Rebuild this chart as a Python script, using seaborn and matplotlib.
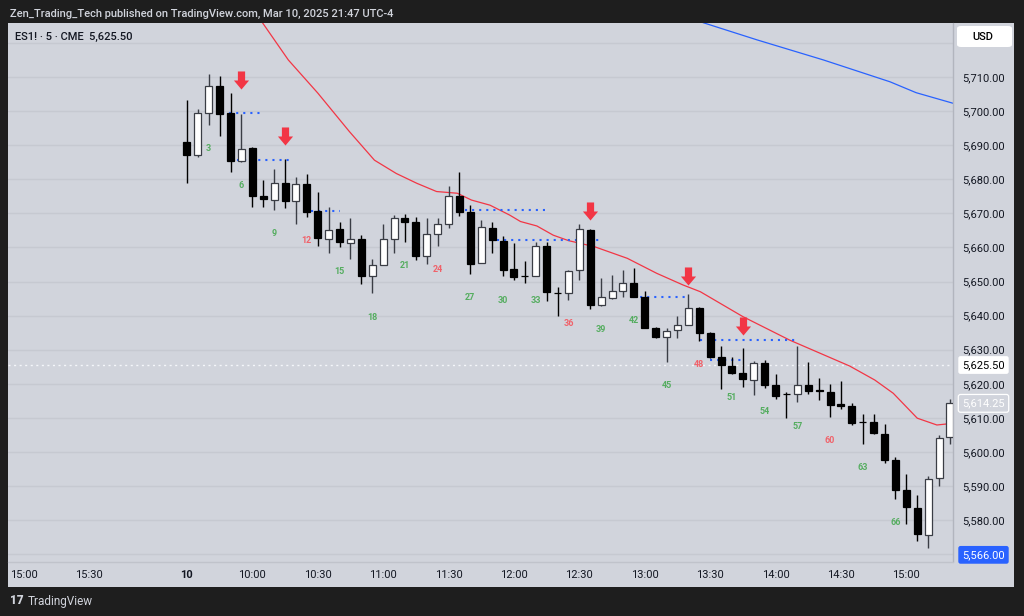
import numpy as np
import seaborn as sns
import matplotlib.pyplot as plt
from matplotlib.path import Path
from matplotlib.transforms import blended_transform_factory
from matplotlib.patches import FancyBboxPatch

# ES1! 5 min bars, 9:30 onward (bar 1 = 9:30)
opens = [5691, 5687, 5699.5, 5707.25, 5699.5, 5685.5, 5689.25, 5675, 5674, 5679,
         5673.5, 5678.75, 5670.75, 5662.5, 5665.5, 5661.25, 5662.5, 5651.5, 5654.75, 5662.5,
         5668.5, 5667.5, 5657.5, 5664, 5667, 5675, 5670.5, 5655.5, 5665.75, 5662,
         5653.75, 5651.5, 5651.5, 5660.5, 5646.75, 5646.75, 5653.25, 5665.25, 5643, 5645.25,
         5647.25, 5649.5, 5645.5, 5636.5, 5633.75, 5635.75, 5637.25, 5642.25, 5634.75, 5627.75,
         5625.25, 5623.25, 5621, 5626, 5619.75, 5617, 5617, 5619.5, 5618.25, 5617.5,
         5614, 5613.5, 5608.75, 5608.75, 5605.25, 5597.75, 5588.75, 5583.5, 5575.75, 5592.25,
         5604.25]
highs = [5703.25, 5700.5, 5711, 5710.25, 5705.25, 5699.25, 5689.5, 5679.75, 5683, 5686,
         5680.75, 5681.5, 5676.25, 5672, 5667.5, 5668.75, 5663.75, 5656.5, 5667, 5669.5,
         5669.75, 5669, 5668.5, 5668.75, 5678, 5682, 5672.5, 5668, 5667.5, 5663.25,
         5661.25, 5656, 5661.5, 5661.5, 5648.25, 5653.5, 5667, 5665.5, 5651, 5652,
         5653.5, 5654, 5647.25, 5636.75, 5636.5, 5640, 5646.25, 5642.5, 5635.25, 5631,
         5627.75, 5630.5, 5626.75, 5627, 5622.75, 5617.5, 5631, 5626.25, 5621.75, 5620,
         5620.75, 5614.25, 5611, 5611.25, 5608.25, 5598.5, 5593.5, 5587.25, 5593, 5605,
         5615.5]
lows = [5679, 5686.5, 5696, 5692.75, 5682, 5685, 5672, 5672, 5671, 5671.5,
        5667, 5669, 5660.5, 5658.5, 5660, 5656.5, 5649.25, 5646.5, 5654.75, 5658.5,
        5661.5, 5656.25, 5655, 5660.5, 5665.75, 5669.25, 5652.25, 5655.5, 5658.25, 5651.5,
        5650.5, 5649.5, 5651.5, 5644.25, 5640, 5644.5, 5650.5, 5642, 5642.75, 5644.75,
        5645.5, 5645.5, 5636.5, 5633.5, 5626.5, 5633.5, 5637.25, 5632.5, 5627.5, 5618.5,
        5623, 5619, 5616.75, 5618.75, 5615.5, 5610, 5614.5, 5617, 5615.25, 5610.25,
        5612.5, 5608, 5602.25, 5605.25, 5596.75, 5586.25, 5578.75, 5573.75, 5571.75, 5590,
        5602.25]
closes = [5687, 5699.5, 5707.25, 5699.25, 5685.25, 5689, 5675, 5674.25, 5679, 5673.5,
          5678.75, 5670.5, 5662.75, 5665.25, 5661.5, 5662.5, 5651.5, 5654.75, 5662.5, 5668.75,
          5667.5, 5657.5, 5664, 5667, 5675, 5670.5, 5655.25, 5666, 5662.25, 5653.5,
          5651.25, 5651.5, 5660.5, 5647, 5646.75, 5653, 5665.5, 5643, 5645.5, 5647.25,
          5649.5, 5645.5, 5636.5, 5633.75, 5635.5, 5637.25, 5642.25, 5634.75, 5627.75, 5625.5,
          5623.25, 5621.25, 5626, 5619.75, 5616.5, 5617, 5619.5, 5618, 5617.75, 5613.75,
          5613.5, 5608.5, 5608.75, 5605.5, 5597.5, 5588.75, 5583.75, 5576, 5592, 5604,
          5614.25]

# moving averages (bar position, price)
ema_bars = [6.5, 9.3, 12.0, 14.9, 17.2, 19.2, 21.1, 22.9, 24.8, 26.1, 27.8, 29.6, 30.6,
            32.1, 33.6, 35.0, 37.4, 40.4, 43.1, 45.5, 47.1, 51.0, 55.3, 60.8, 63.1, 64.8,
            67.0, 68.8, 70.3]
ema_vals = [5727.9, 5715.0, 5705.3, 5694.0, 5685.6, 5681.7, 5678.8, 5676.4, 5675.9, 5673.9,
            5672.4, 5669.5, 5667.6, 5666.3, 5663.6, 5662.0, 5660.2, 5656.8, 5652.4, 5649.0,
            5647.0, 5639.7, 5632.8, 5625.2, 5621.1, 5617.2, 5609.9, 5607.9, 5608.4]
slow_bars = [46.5, 47.4, 52.3, 58.4, 64.5, 66.9, 70.5]
slow_vals = [5727.0, 5725.9, 5720.9, 5715.0, 5708.6, 5705.4, 5702.1]

# signal levels (start bar, end bar, price)
lvl_start = [3.2, 4.6, 11.4, 25.5, 28.4, 40.9, 47.1, 48.0]
lvl_end = [6.9, 9.7, 14.0, 33.1, 37.9, 45.9, 56.0, 51.0]
lvl_price = [5699.5, 5685.75, 5670.8, 5671.0, 5662.1, 5645.5, 5632.75, 5626.9]

arrow_bars = [5, 9, 37, 46, 51]
arrow_price = [5709.25, 5692.7, 5670.8, 5651.55, 5636.8]

count_labels = [3, 6, 9, 12, 15, 18, 21, 24, 27, 30, 33, 36, 39, 42, 45, 48, 51, 54, 57, 60, 63, 66]

tick_pos = [-15, -9, 0, 6, 12, 18, 24, 30, 36, 42, 48, 54, 60, 66]
tick_lab = ['15:00', '15:30', '10', '10:00', '10:30', '11:00', '11:30', '12:00',
            '12:30', '13:00', '13:30', '14:00', '14:30', '15:00']

prev_close = 5625.50
last_price = 5614.25
low_mark = 5566.00

BG = '#d1d4dc'
DARK = '#1e1e1e'
TXT = '#131722'

sns.set_theme(style='white')
plt.rcParams['font.family'] = ['Roboto', 'DejaVu Sans']

W, H = 1024, 616
fig = plt.figure(figsize=(10.24, 6.16), dpi=100, facecolor=DARK)

frame = fig.add_axes([8 / W, 1 - 587 / H, (1014 - 8) / W, (587 - 23) / H])
frame.set_facecolor(BG)
frame.set_xticks([]); frame.set_yticks([])
for s in frame.spines.values():
    s.set_visible(False)

ax = fig.add_axes([8 / W, 1 - 562 / H, (953 - 8) / W, (562 - 23) / H])
ax.set_facecolor(BG)
ax.set_xlim(-16.42, 70.28)
ax.set_ylim(5567.7, 5725.85)

# grid
for p in range(5570, 5721, 10):
    ax.axhline(p, color='#c6c9d1', lw=1, zorder=0)

ax.axhline(prev_close, color='#f4f6fa', lw=1, ls=(0, (1.5, 2.5)), zorder=1)

sns.lineplot(x=ema_bars, y=ema_vals, ax=ax, color='#f23645', lw=0.9, sort=False, estimator=None, zorder=2)
sns.lineplot(x=slow_bars, y=slow_vals, ax=ax, color='#2962ff', lw=0.9, sort=False, estimator=None, zorder=2)

for a, b, p in zip(lvl_start, lvl_end, lvl_price):
    ax.plot([a, b], [p, p], color='#2962ff', lw=1.5, ls=(0, (1, 2.4)), zorder=2)

# candles
o = np.array(opens); c = np.array(closes); hi = np.array(highs); lo = np.array(lows)
pos = np.arange(len(o))
up = c > o
ax.vlines(pos[up], lo[up], hi[up], color='#3a3d45', lw=1.0, zorder=3)
ax.vlines(pos[~up], lo[~up], hi[~up], color='#000000', lw=1.0, zorder=3)
bot = np.minimum(o, c)
hgt = np.abs(c - o)
ax.bar(pos[up], hgt[up], bottom=bot[up], width=0.64, color='white', edgecolor='#3a3d45', linewidth=0.9, zorder=4)
ax.bar(pos[~up], hgt[~up], bottom=bot[~up], width=0.64, color='black', edgecolor='black', linewidth=0.9, zorder=4)

# count labels
for n in count_labels:
    col = '#f0626a' if n % 12 == 0 else '#55ad60'
    ax.annotate(str(n), xy=(n - 1, lows[n - 1]), xytext=(0, -17), textcoords='offset points',
                ha='center', va='center', fontsize=6.5, color=col, fontweight='bold', zorder=5)

# arrows
arrow = Path([(-0.2, 0.5), (0.2, 0.5), (0.2, 0.0), (0.42, 0.0), (0, -0.5), (-0.42, 0.0),
              (-0.2, 0.0), (-0.2, 0.5)],
             [Path.MOVETO] + [Path.LINETO] * 6 + [Path.CLOSEPOLY])
ax.plot(arrow_bars, arrow_price, ls='none', marker=arrow, markersize=13,
        color='#f23645', markeredgewidth=0, zorder=6)

# axes styling
for s in ax.spines.values():
    s.set_visible(False)
ax.axvline(70.28, color='#b2b5be', lw=1, clip_on=False)
ax.axhline(5567.7, color='#c0c3cb', lw=1, clip_on=False)

ax.set_xticks(tick_pos)
ax.set_xticklabels(tick_lab)
for t in ax.get_xticklabels():
    if t.get_text() == '10':
        t.set_fontweight('bold')
ax.tick_params(axis='x', length=0, pad=6, labelsize=8, labelcolor=TXT)

ax.yaxis.tick_right()
yt = list(range(5580, 5711, 10))
ax.set_yticks(yt)
ax.set_yticklabels([f'{v:,.2f}' for v in yt])
ax.tick_params(axis='y', length=0, pad=6.5, labelsize=8, labelcolor=TXT)
ax.set_xlabel(''); ax.set_ylabel('')

tr = blended_transform_factory(ax.transAxes, ax.transData)
lx = (983.5 - 8) / (953 - 8)
ax.text(lx, prev_close, f'{prev_close:,.2f}', transform=tr, ha='center', va='center', fontsize=8,
        color='black', clip_on=False, zorder=7,
        bbox=dict(boxstyle='round,pad=0.35,rounding_size=0.2', fc='white', ec='none'))
ax.text(lx, last_price, f'{last_price:,.2f}', transform=tr, ha='center', va='center', fontsize=8,
        color='white', clip_on=False, zorder=7,
        bbox=dict(boxstyle='round,pad=0.35,rounding_size=0.2', fc=BG, ec='white', lw=0.9))
low_y = max(low_mark, ax.get_ylim()[0] + 2.1)
ax.text(lx, low_y, f'{low_mark:,.2f}', transform=tr, ha='center', va='center', fontsize=8,
        color='white', clip_on=False, zorder=7,
        bbox=dict(boxstyle='round,pad=0.35,rounding_size=0.2', fc='#2962ff', ec='none'))

# USD box
fig.patches.append(FancyBboxPatch((957 / W, 1 - 47 / H), 55 / W, 21 / H,
                                  boxstyle='round,pad=0,rounding_size=0.004',
                                  transform=fig.transFigure, fc='white', ec='none', zorder=5))
fig.text(983 / W, 1 - 36.5 / H, 'USD', ha='center', va='center', fontsize=8, color='black',
         fontweight='medium', zorder=6)

ax.text((15 - 8) / 945, (562 - 37) / 539, 'ES1! · 5 · CME  5,625.50', transform=ax.transAxes,
        ha='left', va='center', fontsize=8, color=TXT, fontweight='medium')

fig.text(10 / W, 1 - 14 / H, 'Zen_Trading_Tech published on TradingView.com, Mar 10, 2025 21:47 UTC-4',
         ha='left', va='center', fontsize=8, color='#d1d4dc', fontweight='medium')
fig.text(10 / W, 1 - 601 / H, '17', ha='left', va='center', fontsize=8.5, color='#d1d4dc',
         fontweight='heavy')
fig.text(28 / W, 1 - 601 / H, 'TradingView', ha='left', va='center', fontsize=8.5, color='#d1d4dc')

fig.savefig('out.png', dpi=100, facecolor=DARK)
